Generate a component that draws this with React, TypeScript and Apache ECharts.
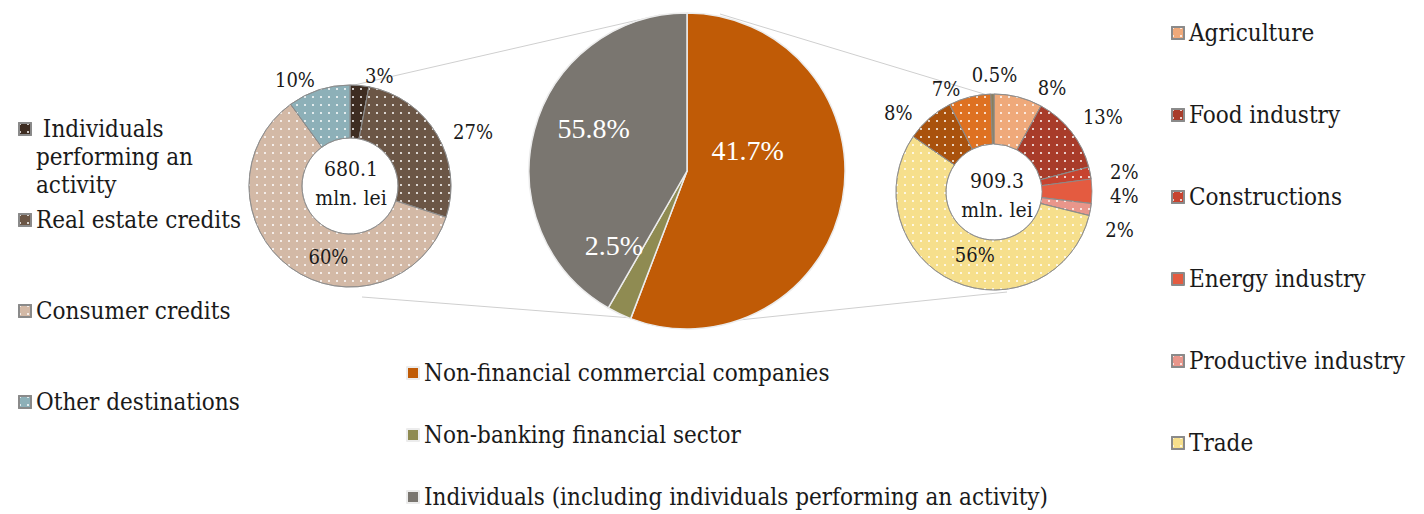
import React, { useEffect, useRef } from "react";
import * as echarts from "echarts";

// ---- data ----
const leftNames = ["Individuals performing an activity", "Real estate credits", "Consumer credits", "Other destinations"];
const leftValues = [3, 27, 60, 10];
const leftTotal = "680.1\nmln. lei";

const centerNames = ["Non-financial commercial companies", "Non-banking financial sector", "Individuals (including individuals performing an activity)"];
const centerValues = [55.8, 2.5, 41.7];
const centerLabelTexts = ["41.7%", "2.5%", "55.8%"];

const rightNames = ["Agriculture", "Food industry", "Constructions", "Energy industry", "Productive industry", "Trade", "Other branches", "Services", "Other"];
const rightValues = [8, 13, 2, 4, 2, 56, 8, 7, 0.5];
const rightLegendNames = ["Agriculture", "Food industry", "Constructions", "Energy industry", "Productive industry", "Trade"];
const rightTotal = "909.3\nmln. lei";

// ---- styles ----
const FONT = "'DejaVu Serif Condensed', 'DejaVu Serif', serif";
const leftColors = ["#3E2D22", "#6B5646", "#D3B9A6", "#8DB0B8"];
const centerColors = ["#C05B06", "#8F8B52", "#7A7670"];
const rightColors = ["#EFA97A", "#A83C2A", "#C7432F", "#E45B40", "#E9968B", "#F6DF8C", "#A9520D", "#DE7121", "#8A7F5C"];
const leftDotted = [true, true, true, true];
const rightDotted = [true, true, true, false, true, true, true, true, false];

const leftLabelOffsets = [[0, -3], [6, 0], [24, 8], [3, -4]];
const rightLabelOffsets = [[13, -3], [2, -11], [9, 0], [7, 5], [4, 19], [12, -6], [-8, -1], [-3, -2], [30, -13]];
const centerLabelOffsets = [[-20, -35], [-38, 0], [-14, -21]];

const dots = {
  symbol: "rect",
  symbolSize: 1,
  dashArrayX: [1.4, 5.6],
  dashArrayY: [1.4, 5.6],
  color: "rgba(255,255,255,0.75)",
};

const L_CENTER = [350, 186];
const C_CENTER = [687, 171];
const R_CENTER = [994, 192];
const LH = 28;
const LEGEND_FS = 24;

function legendItem(name: string, left: number, cy: number, extra: any = {}) {
  return {
    data: [name],
    left,
    top: cy - LH / 2,
    orient: "vertical",
    padding: 0,
    itemGap: 0,
    itemWidth: 12,
    itemHeight: 12,
    icon: "rect",
    selectedMode: false,
    textStyle: { fontFamily: FONT, fontSize: LEGEND_FS, color: "#1a1a1a", lineHeight: LH },
    ...extra,
  };
}

export default function App() {
  const ref = useRef<HTMLDivElement>(null);
  useEffect(() => {
    document.body.style.margin = "0";
    const chart = echarts.init(ref.current!, null, { renderer: "svg" });

    const labelBase = { fontFamily: FONT, fontSize: 20, color: "#1a1a1a" };

    const leftData = leftNames.map((n, i) => ({
      name: n,
      value: leftValues[i],
      itemStyle: { color: leftColors[i], decal: leftDotted[i] ? dots : undefined },
      label: i === 2 ? { position: "inside", offset: leftLabelOffsets[i] } : { offset: leftLabelOffsets[i] },
    }));
    const rightData = rightNames.map((n, i) => ({
      name: n,
      value: rightValues[i],
      itemStyle: { color: rightColors[i], decal: rightDotted[i] ? dots : undefined },
      label: i === 5 ? { position: "inside", offset: rightLabelOffsets[i] } : { offset: rightLabelOffsets[i] },
    }));
    const centerData = centerNames.map((n, i) => ({
      name: n,
      value: centerValues[i],
      itemStyle: { color: centerColors[i] },
      label: { offset: centerLabelOffsets[i], formatter: centerLabelTexts[i] },
    }));

    const legends: any[] = [
      legendItem(leftNames[0], 18, 129, {
        formatter: () => "\n\n Individuals\nperforming an\nactivity",
        top: 129 - (5 * LH) / 2,
      }),
      legendItem(leftNames[1], 18, 220),
      legendItem(leftNames[2], 18, 311),
      legendItem(leftNames[3], 18, 402),
      ...centerNames.map((n, i) => legendItem(n, 406, 373 + i * 62)),
      ...rightLegendNames.map((n, i) => legendItem(n, 1171, 33 + i * 82)),
    ];

    const lineStyle = { stroke: "#cfcfcf", lineWidth: 1 };

    chart.setOption({
      animation: false,
      backgroundColor: "#ffffff",
      legend: legends,
      graphic: [
        { type: "line", z: 0, shape: { x1: 350, y1: 86, x2: 660, y2: 15 }, style: lineStyle },
        { type: "line", z: 0, shape: { x1: 720, y1: 14, x2: 994, y2: 97 }, style: lineStyle },
        { type: "line", z: 0, shape: { x1: 362, y1: 297, x2: 645, y2: 319 }, style: lineStyle },
        { type: "line", z: 0, shape: { x1: 720, y1: 322, x2: 1007, y2: 292 }, style: lineStyle },
        {
          type: "text", z: 10, x: L_CENTER[0] + 1, y: L_CENTER[1] - 3,
          style: { text: leftTotal, fontFamily: FONT, fontSize: 21, fill: "#1a1a1a", align: "center", verticalAlign: "middle", lineHeight: 29 },
        },
        {
          type: "text", z: 10, x: R_CENTER[0] + 3, y: R_CENTER[1] + 3,
          style: { text: rightTotal, fontFamily: FONT, fontSize: 21, fill: "#1a1a1a", align: "center", verticalAlign: "middle", lineHeight: 29 },
        },
      ],
      series: [
        {
          type: "pie",
          center: L_CENTER,
          radius: [48, 101],
          startAngle: 90,
          clockwise: true,
          avoidLabelOverlap: false,
          itemStyle: { borderColor: "#8a8a8a", borderWidth: 0.8 },
          label: { show: true, position: "outside", formatter: (p: any) => p.value + "%", ...labelBase },
          labelLine: { show: false, length: 6, length2: 0 },
          emphasis: { disabled: true },
          data: leftData,
        },
        {
          type: "pie",
          center: C_CENTER,
          radius: [0, 158],
          startAngle: 90,
          clockwise: true,
          itemStyle: { borderColor: "#ececec", borderWidth: 1.5 },
          label: { show: true, position: "inside", fontFamily: "'Liberation Serif', serif", fontSize: 28, color: "#ffffff" },
          labelLine: { show: false },
          emphasis: { disabled: true },
          data: centerData,
        },
        {
          type: "pie",
          center: R_CENTER,
          radius: [48, 98],
          startAngle: 90,
          clockwise: true,
          avoidLabelOverlap: false,
          itemStyle: { borderColor: "#8a8a8a", borderWidth: 0.8 },
          label: { show: true, position: "outside", formatter: (p: any) => p.value + "%", ...labelBase },
          labelLine: { show: false, length: 6, length2: 0 },
          emphasis: { disabled: true },
          data: rightData,
        },
      ],
    });
    return () => chart.dispose();
  }, []);
  return <div ref={ref} style={{ width: 1424, height: 514 }} />;
}
